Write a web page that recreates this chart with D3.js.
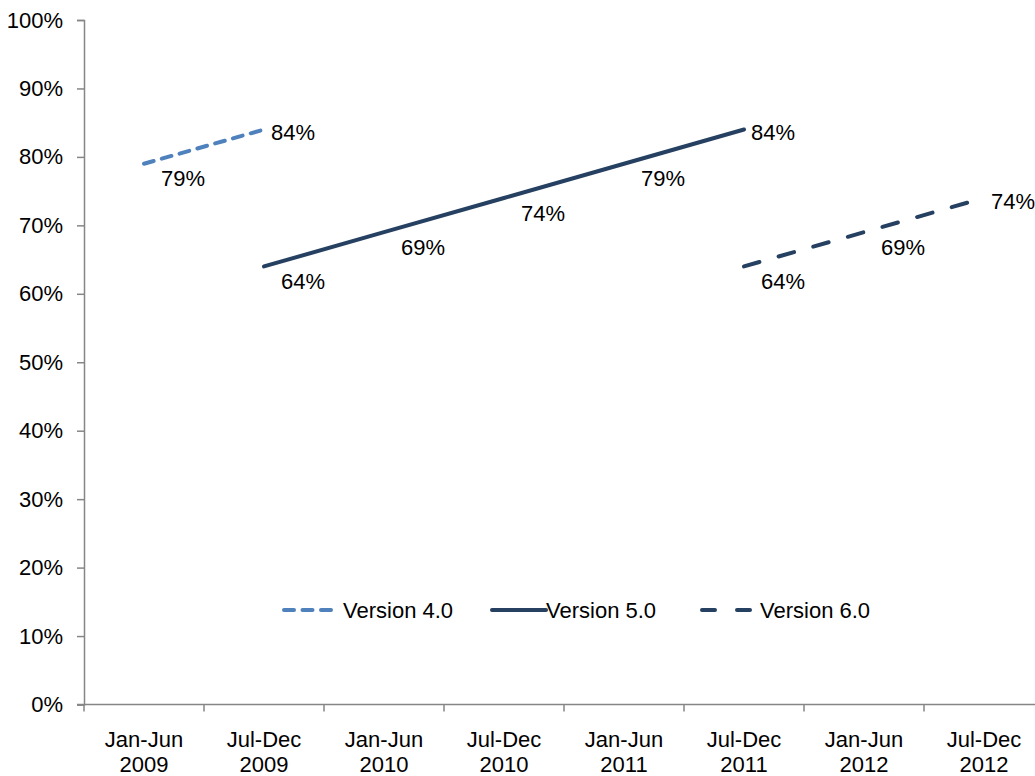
<!DOCTYPE html>
<html>
<head>
<meta charset="utf-8">
<script src="https://cdn.jsdelivr.net/npm/d3@7"></script>
<style>
  html, body { margin: 0; padding: 0; background: #ffffff; }
  svg { display: block; font-family: "Liberation Sans", Arial, sans-serif; }
</style>
</head>
<body>
<svg id="chart" width="1035" height="776"></svg>
<script>
// Half-year periods along the x axis
const categories = [
  "Jan-Jun 2009", "Jul-Dec 2009", "Jan-Jun 2010", "Jul-Dec 2010",
  "Jan-Jun 2011", "Jul-Dec 2011", "Jan-Jun 2012", "Jul-Dec 2012"
];

// Percentages per version (null where a version was not in use)
const version4 = [79, 84, null, null, null, null, null, null];
const version5 = [null, 64, 69, 74, 79, 84, null, null];
const version6 = [null, null, null, null, null, 64, 69, 74];

const seriesNames = ["Version 4.0", "Version 5.0", "Version 6.0"];
const yTicks = [0, 10, 20, 30, 40, 50, 60, 70, 80, 90, 100];

const svg = d3.select("#chart");
const axisColor = "#868686";
const fontSize = 22;

const x = d3.scaleBand().domain(categories).range([84, 1044]).padding(0);
const y = d3.scaleLinear().domain([0, 100]).range([704.5, 20]);
const cx = c => x(c) + x.bandwidth() / 2;

// Y axis
const yAxis = svg.append("g")
  .attr("transform", `translate(${x.range()[0]},0)`)
  .call(d3.axisLeft(y).tickValues(yTicks).tickFormat(d => d + "%").tickSize(7).tickPadding(14));
yAxis.select(".domain").attr("stroke", axisColor).attr("stroke-width", 1.5);
yAxis.selectAll(".tick line").attr("stroke", axisColor).attr("stroke-width", 1.5);
yAxis.selectAll(".tick text")
  .attr("fill", "#000").style("font-size", fontSize + "px").style("font-family", "Liberation Sans, Arial, sans-serif");

// X axis: ticks fall between categories, labels on two lines
const xAxis = svg.append("g").attr("transform", `translate(0,${y(0)})`);
xAxis.append("line")
  .attr("x1", x.range()[0] - 7).attr("x2", x.range()[1])
  .attr("stroke", axisColor).attr("stroke-width", 1.5);
xAxis.selectAll("line.tk")
  .data(categories.concat([null]))
  .join("line")
  .attr("class", "tk")
  .attr("x1", (d, i) => x.range()[0] + i * x.step())
  .attr("x2", (d, i) => x.range()[0] + i * x.step())
  .attr("y1", 0).attr("y2", 7)
  .attr("stroke", axisColor).attr("stroke-width", 1.5);
const xl = xAxis.selectAll("text.cat")
  .data(categories)
  .join("text")
  .attr("class", "cat")
  .attr("text-anchor", "middle")
  .attr("x", d => cx(d))
  .style("font-size", fontSize + "px")
  .attr("fill", "#000");
xl.each(function(d) {
  const parts = d.split(" ");
  const t = d3.select(this);
  parts.forEach((p, i) => {
    t.append("tspan").attr("x", cx(d)).attr("y", 42 + i * 25).text(p);
  });
});

// Series definitions
const series = [
  { name: seriesNames[0], values: version4, color: "#4F81BD", dash: "10,8.5" },
  { name: seriesNames[1], values: version5, color: "#254061", dash: null },
  { name: seriesNames[2], values: version6, color: "#254061", dash: "16,20" }
];

const line = d3.line()
  .defined(d => d.v != null)
  .x(d => cx(d.c))
  .y(d => y(d.v));

series.forEach(s => {
  const pts = categories.map((c, i) => ({ c, v: s.values[i] }));
  svg.append("path")
    .datum(pts)
    .attr("d", line)
    .attr("fill", "none")
    .attr("stroke", s.color)
    .attr("stroke-width", 4)
    .attr("stroke-linecap", "round")
    .attr("stroke-dasharray", s.dash);

  // Value labels: last point to the right, the others below
  const valid = pts.filter(d => d.v != null);
  svg.selectAll(null)
    .data(valid)
    .join("text")
    .attr("x", (d, i) => cx(d.c) + (i === valid.length - 1 ? 7 : 17))
    .attr("y", (d, i) => y(d.v) + (i === valid.length - 1 ? 3 : 15))
    .attr("dy", "0.35em")
    .style("font-size", fontSize + "px")
    .attr("fill", "#000")
    .text(d => d.v + "%");
});

// Legend
const legendY = 610;
const legendItems = [
  { s: series[0], x1: 284, x2: 333, tx: 343 },
  { s: series[1], x1: 492, x2: 546, tx: 546 },
  { s: series[2], x1: 702, x2: 750, tx: 760 }
];
const lg = svg.append("g");
legendItems.forEach(li => {
  lg.append("line")
    .attr("x1", li.x1).attr("x2", li.x2)
    .attr("y1", legendY).attr("y2", legendY)
    .attr("stroke", li.s.color)
    .attr("stroke-width", 4)
    .attr("stroke-linecap", "round")
    .attr("stroke-dasharray", li.s.dash ? (li.s === series[0] ? "10,8.5" : "13,22") : null);
  lg.append("text")
    .attr("x", li.tx).attr("y", legendY)
    .attr("dy", "0.35em")
    .style("font-size", fontSize + "px")
    .attr("fill", "#000")
    .text(li.s.name);
});
</script>
</body>
</html>
